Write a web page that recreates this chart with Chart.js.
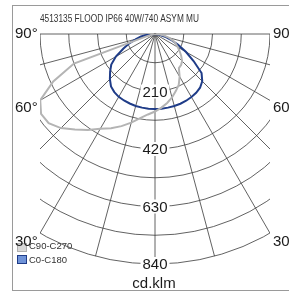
<!DOCTYPE html>
<html>
<head>
<meta charset="utf-8">
<script src="https://cdn.jsdelivr.net/npm/chart.js@4.4.1/dist/chart.umd.min.js"></script>
<style>
html, body { margin: 0; padding: 0; background: #fff; }
canvas { display: block; }
</style>
</head>
<body>
<canvas id="polar" width="289" height="293"></canvas>
<script>
// angle from nadir in degrees, negative = left half of the diagram
const angles = [-90, -85, -80, -75, -70, -65, -60, -55, -50, -45, -40, -35, -30, -25, -20, -15, -10, -5,
                0, 5, 10, 15, 20, 25, 30, 35, 40, 45, 50, 55, 60, 65, 70, 75, 80, 85, 90];
const c90c270 = [0, 0, 5, 30, 315, 410, 484, 508, 507, 486, 455, 428, 400, 380, 358, 335, 312, 295,
                 283, 270, 256, 240, 222, 205, 180, 152, 148, 140, 125, 110, 96, 84, 70, 52, 34, 15, 0];
const c0c180 = [0, 28, 52, 70, 100, 128, 165, 195, 214, 233, 250, 259, 265, 268, 270, 272, 273, 274,
                274, 274, 273, 272, 271, 269, 266, 262, 256, 244, 222, 172, 130, 92, 62, 38, 20, 8, 0];
const rings = [105, 210, 315, 420, 525, 630, 735, 840];
const ringLabels = [210, 420, 630, 840];
const spokes = [-90, -75, -60, -45, -30, -15, 0, 15, 30, 45, 60, 75, 90];
const title = '4513135 FLOOD IP66 40W/740 ASYM MU';
const unit = 'cd.klm';

function toXY(vals) {
    return vals.map((v, i) => {
        const a = angles[i] * Math.PI / 180;
        return { x: v * Math.sin(a), y: -v * Math.cos(a) };
    });
}

const font = '"Liberation Sans", Arial, sans-serif';

const polarGrid = {
    id: 'polarGrid',
    beforeDatasetsDraw(chart) {
        const { ctx, chartArea: a, scales: { x, y } } = chart;
        const cx = x.getPixelForValue(0), cy = y.getPixelForValue(0);
        const k = (x.getPixelForValue(100) - cx) / 100;
        ctx.save();
        ctx.beginPath();
        ctx.rect(a.left, a.top - 1, a.right - a.left, a.bottom - a.top + 2);
        ctx.clip();
        ctx.strokeStyle = '#3a3a3a';
        ctx.lineWidth = 0.8;
        rings.forEach(r => {
            ctx.beginPath();
            ctx.arc(cx, cy, r * k, 0, Math.PI);
            ctx.stroke();
        });
        const R = rings[rings.length - 1] * k;
        spokes.forEach(d => {
            const t = d * Math.PI / 180;
            ctx.beginPath();
            ctx.moveTo(cx, cy);
            ctx.lineTo(cx + R * Math.sin(t), cy + R * Math.cos(t));
            ctx.stroke();
        });
        ctx.restore();
    },
    afterDraw(chart) {
        const { ctx, scales: { x, y } } = chart;
        const cx = x.getPixelForValue(0), cy = y.getPixelForValue(0);
        const k = (x.getPixelForValue(100) - cx) / 100;
        ctx.save();
        // frame
        ctx.strokeStyle = '#9a9a9a';
        ctx.lineWidth = 1;
        ctx.strokeRect(12.5, 5.5, 300, 285);

        // ring values
        ctx.font = '15px ' + font;
        ctx.textAlign = 'center';
        ctx.textBaseline = 'middle';
        ringLabels.forEach(v => {
            const py = cy + v * k;
            const w = ctx.measureText(String(v)).width;
            ctx.fillStyle = '#fff';
            ctx.fillRect(cx - w / 2 - 2, py - 7, w + 4, 14);
            ctx.fillStyle = '#1a1a1a';
            ctx.fillText(String(v), cx, py + 1);
        });

        // legend boxes
        ctx.lineWidth = 1;
        ctx.fillStyle = '#dadada';
        ctx.strokeStyle = '#b0b0b0';
        ctx.fillRect(17.5, 243.5, 9, 8);
        ctx.strokeRect(17.5, 243.5, 9, 8);
        ctx.fillStyle = '#6f93d8';
        ctx.strokeStyle = '#1f3c88';
        ctx.fillRect(17.5, 255.5, 9, 8);
        ctx.strokeRect(17.5, 255.5, 9, 8);

        // angle labels
        ctx.textAlign = 'left';
        ctx.fillStyle = '#1a1a1a';
        ctx.font = '15px ' + font;
        [['90°', 34], ['60°', 108], ['30°', 242]].forEach(([t, py]) => {
            ctx.fillText(t, 15, py);
            ctx.fillText(t, 273, py);
        });

        ctx.font = '9.5px ' + font;
        ctx.fillStyle = '#333';
        chart.data.datasets.forEach((ds, i) => {
            ctx.fillText(ds.label, 29, i === 0 ? 246 : 260);
        });

        // title and unit
        ctx.font = '10px ' + font;
        ctx.fillStyle = '#333';
        ctx.fillText(title, 40, 19, 159);
        ctx.font = '15px ' + font;
        ctx.textAlign = 'center';
        ctx.fillStyle = '#1a1a1a';
        ctx.fillText(unit, 154, 284);
        ctx.restore();
    }
};

new Chart(document.getElementById('polar'), {
    type: 'scatter',
    data: {
        datasets: [{
            label: 'C90-C270',
            data: toXY(c90c270),
            showLine: true,
            borderColor: '#b4b4b4',
            borderWidth: 2,
            pointRadius: 0
        }, {
            label: 'C0-C180',
            data: toXY(c0c180),
            showLine: true,
            borderColor: '#1f3c88',
            borderWidth: 2,
            pointRadius: 0
        }]
    },
    options: {
        responsive: false,
        animation: false,
        devicePixelRatio: 1,
        layout: { padding: { left: 40, right: 19, top: 34, bottom: 29 } },
        scales: {
            x: { type: 'linear', min: -420, max: 420, display: false },
            y: { type: 'linear', min: -840, max: 0, display: false }
        },
        plugins: {
            legend: { display: false },
            tooltip: { enabled: false }
        }
    },
    plugins: [polarGrid]
});
</script>
</body>
</html>
